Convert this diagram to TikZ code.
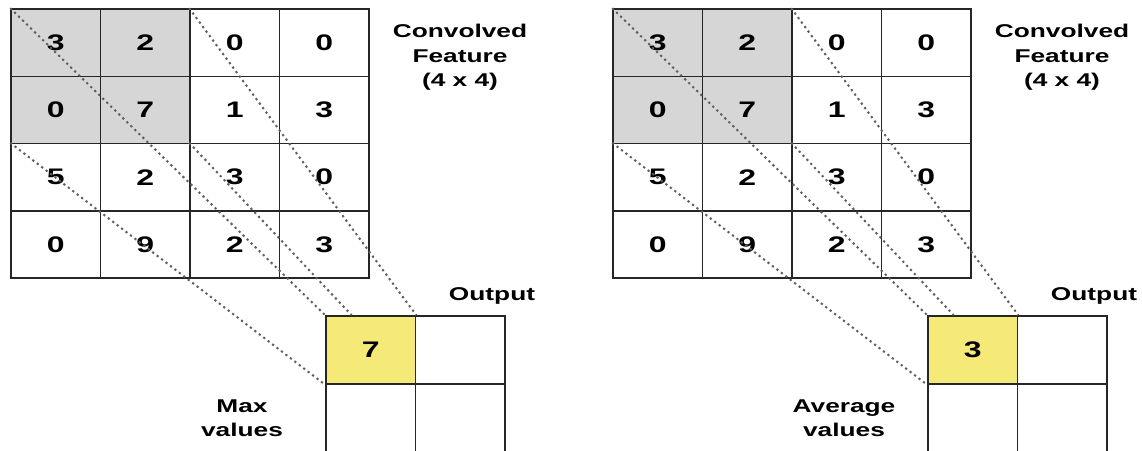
\documentclass[tikz,border=0pt]{standalone}
\usepackage{fontspec}
\setmainfont{Liberation Sans}[FakeStretch=1.42]
\usetikzlibrary{calc}
\definecolor{cellgray}{RGB}{214,214,214}
\definecolor{poolyellow}{RGB}{245,233,120}
\definecolor{dotgray}{RGB}{95,95,95}
\tikzset{
  cell/.style={draw=black!85, line width=1.6pt, minimum width=89.5pt, minimum height=67.3pt,
    inner sep=0pt, font=\fontsize{22.5}{22.5}\selectfont\bfseries},
  ocell/.style={cell, minimum height=68pt},
  shaded/.style={fill=cellgray},
  plain/.style={},
  hot/.style={fill=poolyellow},
  lab/.style={font=\fontsize{18.5}{24.5}\selectfont\bfseries, align=center, inner sep=0pt},
  guide/.style={draw=dotgray, line width=2pt, dash pattern=on 2.2pt off 3.4pt},
}
\begin{document}
\begin{tikzpicture}[x=1pt,y=-1pt]
\useasboundingbox (0,0) rectangle (1142,450);
\clip (0,0) rectangle (1142,450);
\foreach \p/\dx/\val/\lbl in {L/0/7/Max, R/602/3/Average}{
  \begin{scope}[shift={(\dx,0)}]
    \foreach \r/\row in {1/{3,2,0,0},2/{0,7,1,3},3/{5,2,3,0},4/{0,9,2,3}}{
      \foreach \v [count=\c] in \row {
        \pgfmathtruncatemacro\sh{and(\r<3,\c<3)}
        \ifnum\sh=1 \def\cs{shaded}\else\def\cs{plain}\fi
        \node[cell,\cs] (\p\r\c) at ({11+(\c-0.5)*89.5},{9+(\r-0.5)*67.3}) {\v};
      }
    }
    \node[ocell,hot] (\p o11) at (370.75,350) {\val};
    \node[ocell] (\p o12) at (460.25,350) {};
    \node[ocell] (\p o21) at (370.75,418) {};
    \node[ocell] (\p o22) at (460.25,418) {};
    \node[lab] (\p conv) at (460,57.5) {Convolved\\Feature\\(4 x 4)};
    \node[lab] (\p out) at (492,296) {Output};
    \node[lab] (\p desc) at (242,418) {\lbl\\values};
    \coordinate (\p d) at ($(\p o11.north west)!0.29!(\p o11.north east)$);
    \draw[guide] (\p11.north west) -- (\p o11.north west);
    \draw[guide] (\p13.north west) -- (\p o11.north east);
    \draw[guide] (\p31.north west) -- (\p o11.south west);
    \draw[guide] (\p33.north west) -- (\p d);
  \end{scope}
}
\end{tikzpicture}
\end{document}
